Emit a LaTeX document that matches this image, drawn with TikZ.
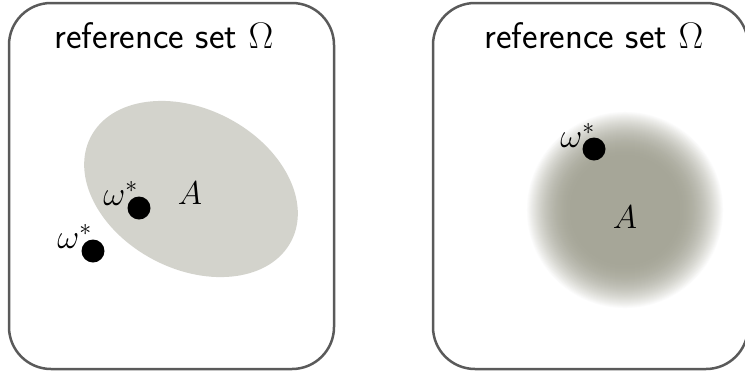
\RequirePackage{fix-cm}
\documentclass[tikz,border=0pt]{standalone}
\usepackage{fontspec}
\usepackage{amsmath}
\definecolor{boxline}{HTML}{5A5A5A}
\definecolor{setfill}{HTML}{D3D3CC}
\definecolor{blobin}{HTML}{A6A698}
\begin{document}
\begin{tikzpicture}[x=1pt,y=-1pt,
  panel/.style={draw=boxline, line width=2.5pt, rounded corners=42pt},
  title/.style={font=\fontsize{37}{44}\selectfont\sffamily, anchor=base},
  dot/.style={circle, fill=black, inner sep=0pt, minimum size=23pt},
  lbl/.style={font=\fontsize{33}{39}\selectfont},
  omlbl/.style={font=\fontsize{34}{40}\selectfont, inner sep=0pt, anchor=base east}]
\useasboundingbox (0,0) rectangle (745,376);
\begin{scope}
\clip (0,0) rectangle (745,376);
% left panel
\draw[panel] (9,3) rectangle (334,369) ;
\node[title] (t1) at (164,48) {reference set $\Omega$};
\fill[setfill, rotate around={-27.5:(191,189)}] (191,189) ellipse [x radius=113pt, y radius=80pt];
\node[lbl] (A1) at (190,193) {$A$};
\node[dot] (d1) at (139,208) {};
\node[omlbl] (w1) at ([xshift=-1pt,yshift=3pt]d1.center) {$\omega^*$};
\node[dot] (d2) at (93,251) {};
\node[omlbl] (w2) at ([xshift=-1pt,yshift=3pt]d2.center) {$\omega^*$};
% right panel
\draw[panel] (433,3) rectangle (748,369);
\node[title] (t2) at (594,48) {reference set $\Omega$};
\foreach \i in {0,...,48} {
  \pgfmathsetmacro{\rr}{99-\i*(47/48)}
  \pgfmathsetmacro{\pp}{100*(1-(1-\i/48)^2)}
  \fill[blobin!\pp!white] (625,210) circle [radius=\rr pt];
}
\node[lbl] (A2) at (625,217) {$A$};
\node[dot] (d3) at (594,149) {};
\node[omlbl] (w3) at ([xshift=1pt,yshift=2pt]d3.center) {$\omega^*$};
\end{scope}
\end{tikzpicture}
\end{document}
